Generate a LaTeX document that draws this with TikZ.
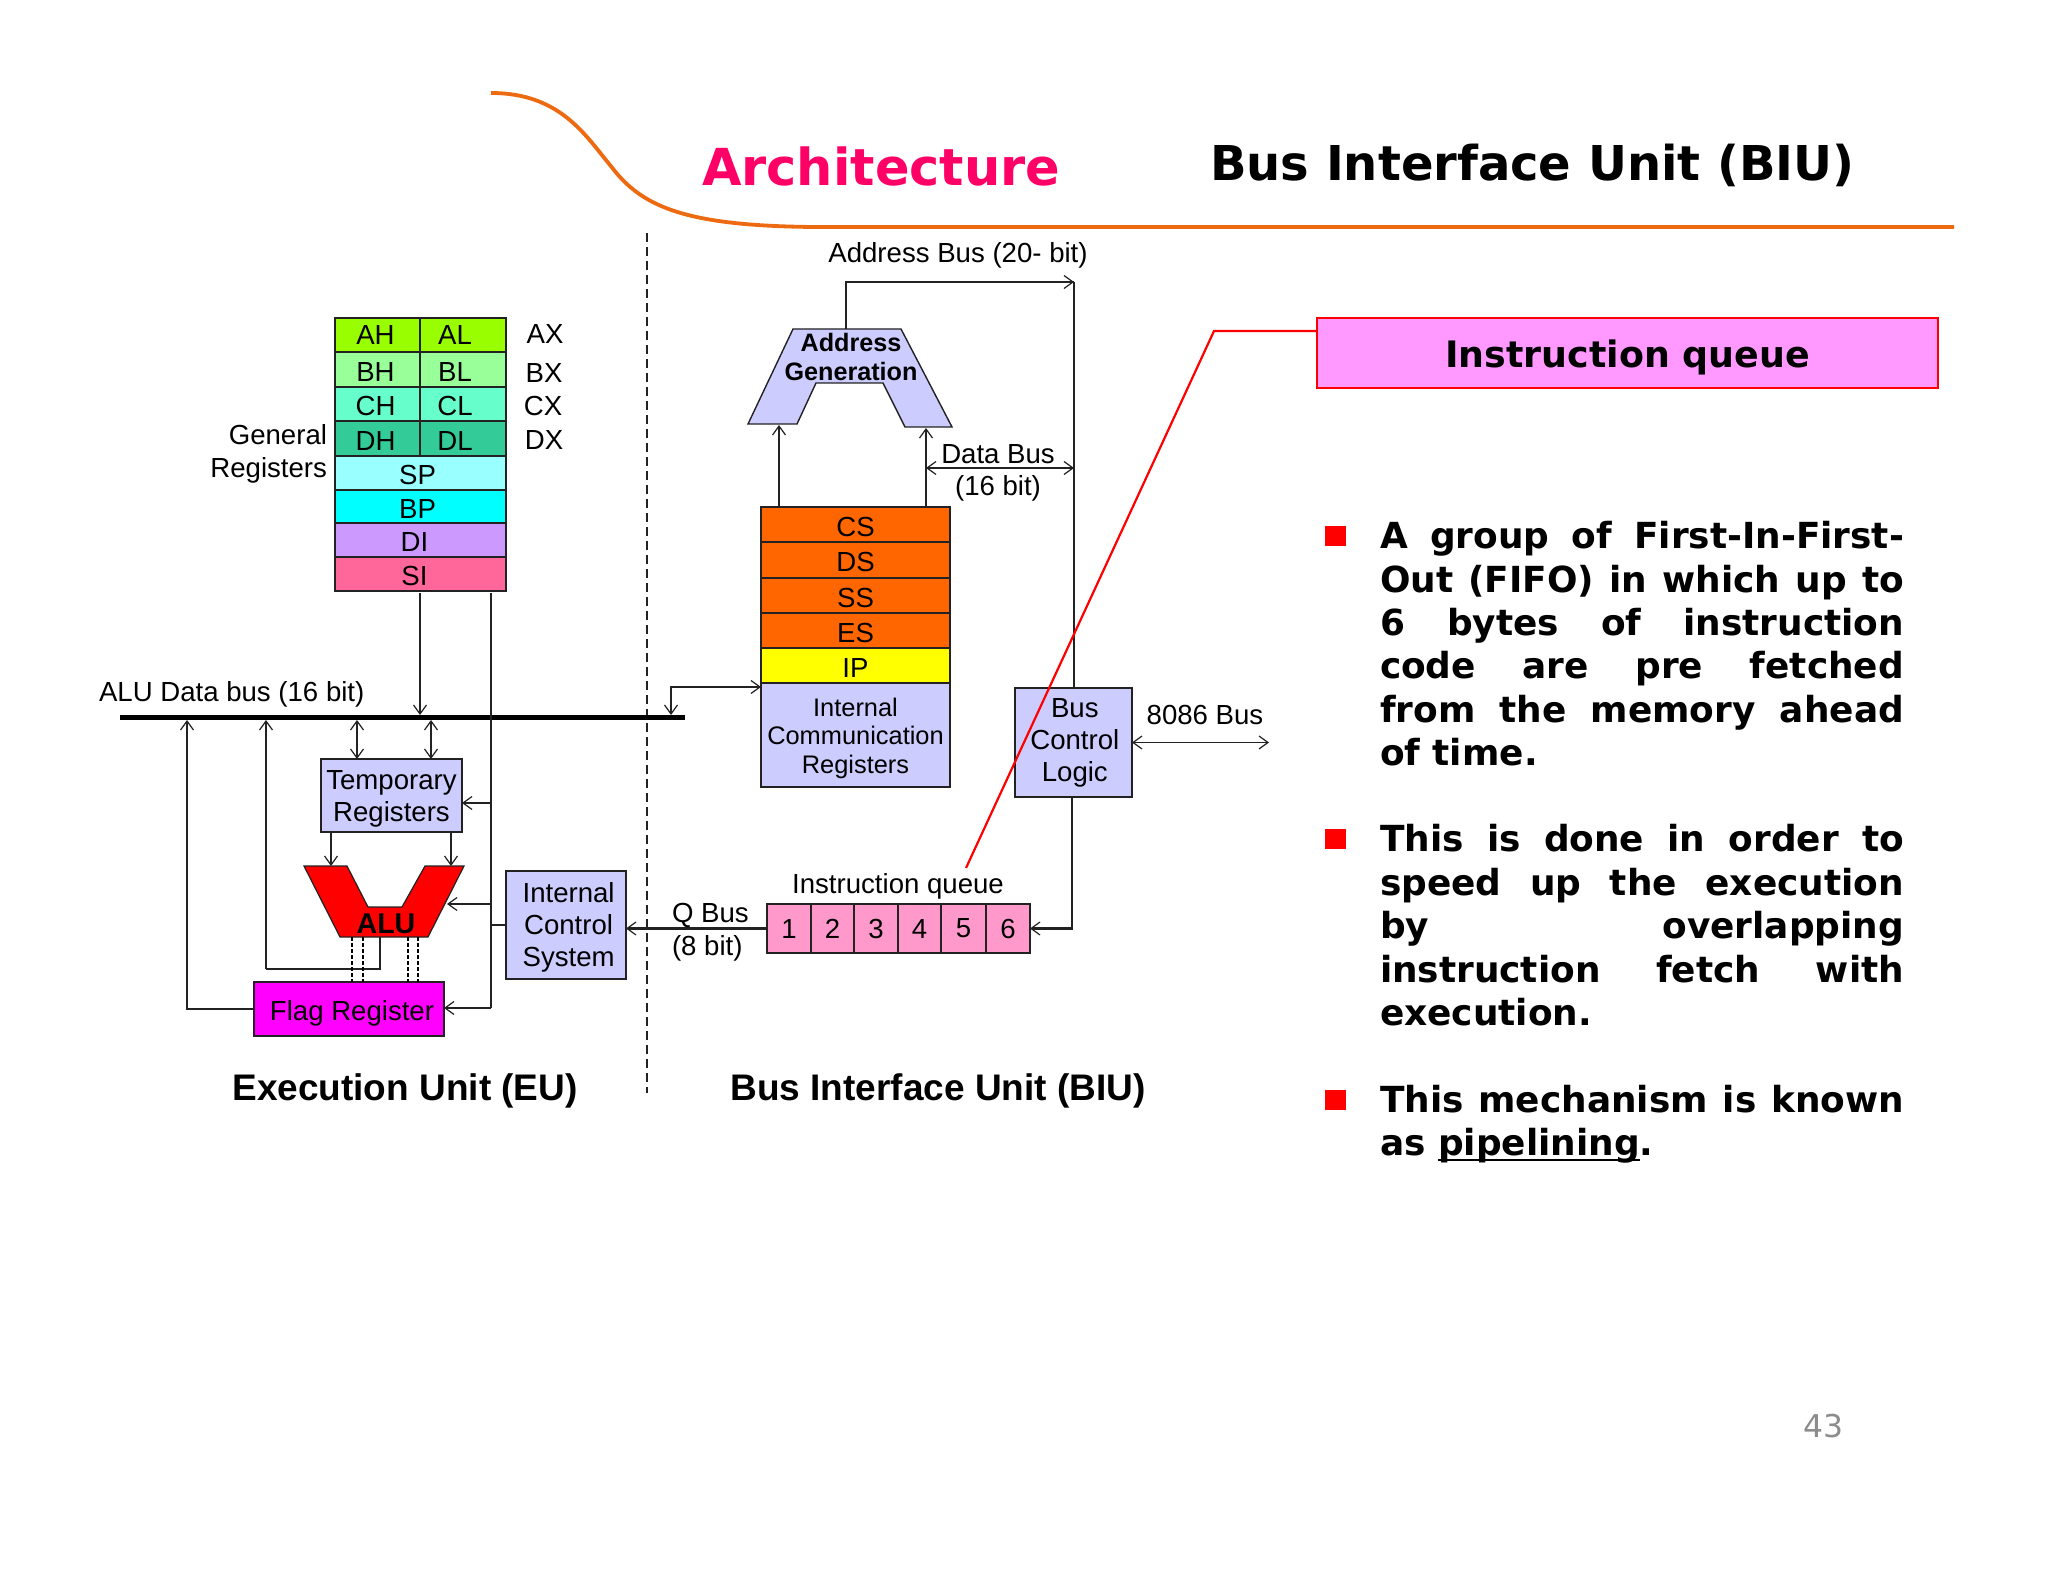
\documentclass[tikz,border=0pt]{standalone}
\usepackage{fontspec}
\setmainfont{Liberation Sans}
\newfontfamily\vb[Ligatures=TeX]{DejaVu Sans Bold}
\newfontfamily\vr{DejaVu Sans}
\usetikzlibrary{arrows.meta,calc}
\definecolor{ink}{HTML}{222222}
\definecolor{lav}{HTML}{CCCCFF}
\definecolor{org}{HTML}{FF6600}
\definecolor{yel}{RGB}{255,255,0}
\definecolor{rust}{HTML}{EE6A10}
\definecolor{queuepink}{HTML}{FF99CC}
\definecolor{calloutpink}{HTML}{FF99FF}
\definecolor{rose}{HTML}{FF0066}
\tikzset{
  >={Straight Barb[length=4.5pt,width=6.5pt,line width=0.6pt]},
  every node/.style={inner sep=0pt,outer sep=0pt},
  lbl/.style={font=\fontsize{13.8}{16}\selectfont,align=center,text=black},
  hdr/.style={font=\fontsize{18.5}{22}\bfseries\selectfont,text=black},
  cell/.style={draw=ink,line width=0.9pt,lbl},
  cellt/.style={cell,execute at begin node={\rule{0pt}{12pt}}},
  wire/.style={draw=ink,line width=0.85pt},
  hwire/.style={draw=ink,line width=1.2pt},
  bodyl/.style={anchor=base west,font=\fontsize{17.95}{21.7}\vb\selectfont,text=black},
  redsq/.style={fill=red},
}
\newcommand\bx[7]{\node[#6,minimum width={(#4-#2)*0.5pt},minimum height={(#5-#3)*0.5pt}] (#1) at ({(#2+#4)/2},{(#3+#5)/2}) {#7};}
\newcommand\bl[4]{\node[bodyl] (#1) at (1380,#2) {\makebox[262pt][#3]{#4}};}
\newcommand\ulin[1]{\setbox0\hbox{#1}\rlap{\rule[-3pt]{\wd0}{1.2pt}}#1}
\newcommand\hs{\hspace{2.6pt}}
\newcommand\up{\rule{0pt}{12.6pt}}
\begin{document}
\begin{tikzpicture}[x=0.5pt,y=-0.5pt]
\useasboundingbox (0,0) rectangle (2048,1582);
\fill[white] (0,0) rectangle (2048,1582);

% header
\draw[draw=rust,line width=1.9pt] (491,93) .. controls (560,93) and (585,135) .. (610,165)
   .. controls (640,205) and (680,226) .. (815,227) -- (1954,227);
\node[anchor=base west,font=\fontsize{25.5}{30}\vb\selectfont,text=rose] (title) at (702,186) {Architecture};
\node[anchor=base west,font=\fontsize{24}{28}\vb\selectfont,text=black] (subtitle) at (1210,181) {Bus Interface Unit (BIU)};

% divider
\draw[draw=ink,line width=1.2pt,dash pattern=on 4.5pt off 2.5pt] (647,233) -- (647,1093);

% general registers
\bx{ah}{335}{318}{420}{352}{cell,fill={rgb,255:red,153;green,255;blue,0}}{\hspace{-2pt}AH}
\bx{al}{420}{318}{506}{352}{cell,fill={rgb,255:red,153;green,255;blue,0}}{\hspace{-8pt}AL}
\bx{bh}{335}{352}{420}{387}{cellt,fill={rgb,255:red,153;green,255;blue,153}}{\hspace{-2pt}BH}
\bx{bl}{420}{352}{506}{387}{cellt,fill={rgb,255:red,153;green,255;blue,153}}{\hspace{-8pt}BL}
\bx{ch}{335}{387}{420}{421}{cellt,fill={rgb,255:red,102;green,255;blue,204}}{\hspace{-2pt}CH}
\bx{cl}{420}{387}{506}{421}{cellt,fill={rgb,255:red,102;green,255;blue,204}}{\hspace{-8pt}CL}
\bx{dh}{335}{421}{420}{456}{cellt,fill={rgb,255:red,51;green,204;blue,153}}{\hspace{-2pt}DH}
\bx{dl}{420}{421}{506}{456}{cellt,fill={rgb,255:red,51;green,204;blue,153}}{\hspace{-8pt}DL}
\bx{sp}{335}{456}{506}{490}{cellt,fill={rgb,255:red,153;green,255;blue,255}}{\hspace{-3pt}SP}
\bx{bp}{335}{490}{506}{523}{cellt,fill={rgb,255:red,0;green,255;blue,255}}{\hspace{-3pt}BP}
\bx{di}{335}{523}{506}{557}{cellt,fill={rgb,255:red,204;green,153;blue,255}}{\hspace{-6pt}DI}
\bx{si}{335}{557}{506}{591}{cellt,fill={rgb,255:red,255;green,102;blue,153}}{\hspace{-6pt}SI}
\node[lbl] (ax) at (545,334) {AX};
\node[lbl] (bx) at (544,373) {BX};
\node[lbl] (cx) at (543,406) {CX};
\node[lbl] (dx) at (544,440) {DX};
\node[lbl,align=right,anchor=east,font=\fontsize{13.8}{16.5}\selectfont] (genreg) at (327,454) {General\\Registers};

% ALU bus
\bx{bus}{120}{715}{685}{720}{fill=black}{}
\node[lbl,anchor=west] (alubus) at (99,694) {ALU Data bus (16 bit)};

% temporary registers
\bx{temp}{321}{759}{462}{832}{cell,fill=lav}{\up Temporary\\Registers}

% ALU
\draw[draw=ink,line width=0.6pt,fill=red] (304,866) -- (347,866) -- (368,907) -- (402,907) -- (425,866) -- (464,866) -- (428,937) -- (340,937) -- cycle;
\node[font=\fontsize{14.3}{16}\bfseries\selectfont] (alu) at (386,924) {ALU};
\coordinate (aluTL) at (331,866);
\coordinate (aluTR) at (451,866);
\coordinate (aluBot) at (380,937);
\coordinate (aluSide) at (447,904);

% flag register
\bx{flag}{254}{982}{444}{1036}{cell,fill={rgb,255:red,255;green,0;blue,255},execute at begin node={\rule{0pt}{14pt}}}{\hspace{3pt}Flag Register}

% internal control
\bx{ics}{506}{871}{626}{979}{cell,fill=lav}{\up\hs Internal\\\hs Control\\\hs System}

% EU wires
\coordinate (ctl) at (491,593);
\draw[wire,->] (420,593) -- (420,0 |- bus.north);
\draw[hwire] (ctl) -- (491,1008);
\draw[hwire,->] (491,1008) -- (491,1008 -| flag.east);
\draw[hwire,->] (491,803) -- (491,803 -| temp.east);
\draw[hwire,->] (491,904) -- (aluSide);
\draw[hwire] (ics.west) -- (ics.west -| ctl);
\draw[hwire,<->] (357,0 |- bus.south) -- (357,0 |- temp.north);
\draw[hwire,<->] (431,0 |- bus.south) -- (431,0 |- temp.north);
\draw[hwire,->] (331,0 |- temp.south) -- (aluTL);
\draw[hwire,->] (451,0 |- temp.south) -- (aluTR);
\draw[hwire,->] (flag.west) -- (187,0 |- flag.west) -- (187,0 |- bus.south);
\draw[hwire] (aluBot) -- (380,969) -- (266,969);
\draw[wire,->] (266,969) -- (266,0 |- bus.south);
\foreach \xd in {352,363,408,418}{
  \draw[draw=black,line width=0.7pt,dash pattern=on 2pt off 1pt] (\xd,937) -- (\xd,0 |- flag.north);
}

% BIU: segment stack
\bx{cs}{761}{507}{950}{542}{cellt,fill=org}{CS}
\bx{ds}{761}{542}{950}{578}{cellt,fill=org}{DS}
\bx{ss}{761}{578}{950}{613}{cellt,fill=org}{SS}
\bx{es}{761}{613}{950}{648}{cellt,fill=org}{ES}
\bx{ip}{761}{648}{950}{683}{cellt,fill=yel}{IP}
\bx{icr}{761}{683}{950}{787}{cell,fill=lav,font=\fontsize{12.7}{14.3}\selectfont}{\up Internal\\Communication\\Registers}

% address generation
\draw[draw=ink,line width=0.7pt,fill=lav] (793,329) -- (901,329) -- (952,427) -- (905,427) -- (883,383) -- (816,383) -- (797,424) -- (748,424) -- cycle;
\node[font=\fontsize{12.6}{14.5}\bfseries\selectfont,align=center] (agen) at (851,357) {Address\\Generation};
\coordinate (agTop) at (846,329);
\coordinate (agL) at (779,425);
\coordinate (agR) at (926,428);

% bus control logic
\bx{bcl}{1015}{688}{1132}{797}{cell,fill=lav}{\hspace{1.3pt}Bus\\\hspace{1.3pt}Control\\\hspace{1.3pt}Logic}
\coordinate (bclTop) at (1074,688);
\coordinate (extBus) at (1269,742);
\coordinate (addrCorner) at (1074,282);

% queue
\bx{q1}{767}{904}{811}{953}{cell,fill=queuepink}{1}
\bx{q2}{811}{904}{854}{953}{cell,fill=queuepink}{2}
\bx{q3}{854}{904}{898}{953}{cell,fill=queuepink}{3}
\bx{q4}{898}{904}{941}{953}{cell,fill=queuepink}{4}
\bx{q5}{941}{904}{986}{953}{cell,fill=queuepink}{5}
\bx{q6}{986}{904}{1030}{953}{cell,fill=queuepink}{6}

% BIU wires
\draw[hwire] (agTop) -- (846,282) -- (addrCorner);
\draw[wire,->] (846,282) -- (addrCorner);
\draw[wire] (addrCorner) -- (bclTop);
\draw[hwire,->] (779,0 |- cs.north) -- (agL);
\draw[hwire,->] (926,0 |- cs.north) -- (agR);
\draw[wire,<->] (926,468) -- (1074,468);
\draw[hwire,<->] (671,0 |- bus.north) -- (671,687) -- (761,687);
\draw[wire,<->] (bcl.east) -- (extBus |- bcl.east);
\draw[hwire,->] (1072,0 |- bcl.south) -- (1072,0 |- q6.east) -- (q6.east);
\draw[hwire,->] (q1.west) -- (q1.west -| ics.east);

% BIU labels
\node[lbl] (addrlbl) at (958,255) {Address Bus (20- bit)};
\node[lbl,font=\fontsize{13.8}{16}\selectfont] (databus) at (998,473) {Data Bus\\(16 bit)};
\node[lbl] (ext) at (1205,715) {8086 Bus};
\node[lbl] (iq) at (898,886) {Instruction queue};
\node[lbl,align=left,anchor=west,font=\fontsize{13.8}{16.5}\selectfont] (qbus) at (672,932) {Q Bus\\(8 bit)};
\node[hdr] (eu) at (405,1091) {Execution Unit (EU)};
\node[hdr] (biu) at (938,1091) {Bus Interface Unit (BIU)};

% callout
\bx{callout}{1317}{318}{1938}{388}{draw=red,line width=1.2pt,fill=calloutpink,font=\fontsize{18.2}{22}\vb\selectfont,execute at begin node={\rule{0pt}{18.5pt}}}{Instruction queue}
\coordinate (calloutEnd) at (966,868);
\draw[draw=red,line width=1.1pt] (callout.west |- 0,331) -- (1214,331) -- (calloutEnd);

% bullets
\bx{s1}{1325}{526}{1346}{546}{redsq}{}
\bx{s2}{1325}{829}{1346}{849}{redsq}{}
\bx{s3}{1325}{1090}{1346}{1110}{redsq}{}
\bl{a1}{549}{s}{A group of First-In-First-}
\bl{a2}{592}{s}{Out (FIFO) in which up to}
\bl{a3}{635}{s}{6 bytes of instruction}
\bl{a4}{678}{s}{code are pre fetched}
\bl{a5}{722}{s}{from the memory ahead}
\bl{a6}{765}{l}{of time.}
\bl{b1}{851}{s}{This is done in order to}
\bl{b2}{895}{s}{speed up the execution}
\bl{b3}{938}{s}{by overlapping}
\bl{b4}{982}{s}{instruction fetch with}
\bl{b5}{1025}{l}{execution.}
\bl{c1}{1112}{s}{This mechanism is known}
\bl{c2}{1155}{l}{as \ulin{pipelining}.}

% page number
\node[font=\fontsize{15.7}{18}\vr\selectfont,text=black!45] (pg) at (1823,1426) {43};
\end{tikzpicture}
\end{document}
